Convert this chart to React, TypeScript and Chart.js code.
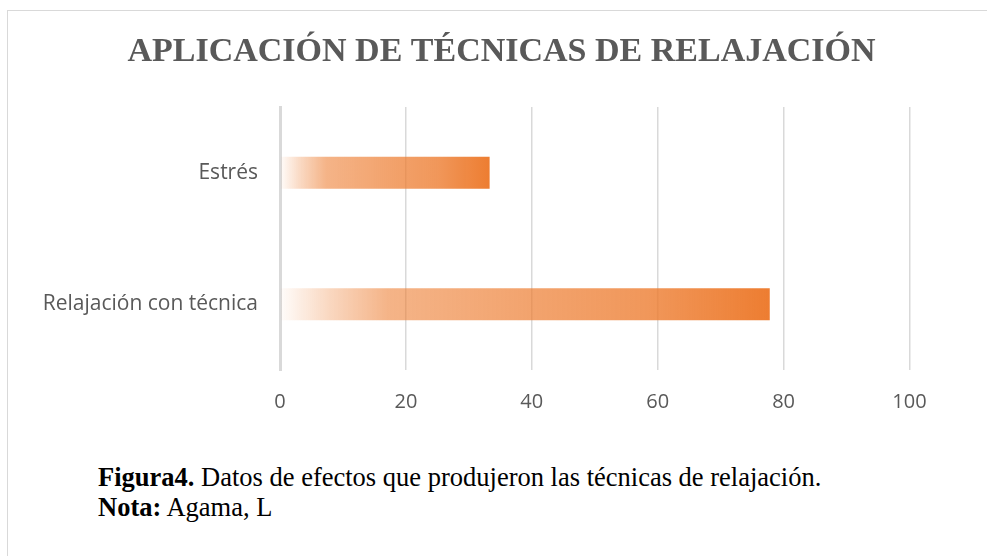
import React, { useEffect, useRef } from "react";
import { Chart, registerables } from "chart.js";

Chart.register(...registerables);

const titleText = "APLICACIÓN DE TÉCNICAS DE RELAJACIÓN";
const categories = ["Estrés", "Relajación con técnica"];
const values = [33.3, 77.8];
const xTicks = [0, 20, 40, 60, 80, 100];

const ORANGE = "237,125,49";

export default function App() {
  const canvasRef = useRef<HTMLCanvasElement | null>(null);

  useEffect(() => {
    const canvas = canvasRef.current;
    if (!canvas) return;
    const chart = new Chart(canvas, {
      type: "bar",
      data: {
        labels: categories,
        datasets: [
          {
            data: values,
            borderWidth: 0,
            barPercentage: 0.243,
            categoryPercentage: 1,
            yAxisID: "y",
            backgroundColor: (ctx: any) => {
              const c = ctx.chart;
              if (!c.chartArea || ctx.type !== "data") return `rgba(${ORANGE},0.75)`;
              const xs = c.scales.x;
              const x0 = xs.getPixelForValue(0);
              const x1 = xs.getPixelForValue(ctx.raw);
              const g = c.ctx.createLinearGradient(x0, 0, x1, 0);
              g.addColorStop(0, `rgba(${ORANGE},0.02)`);
              g.addColorStop(0.1, `rgba(${ORANGE},0.3)`);
              g.addColorStop(0.22, `rgba(${ORANGE},0.58)`);
              g.addColorStop(0.5, `rgba(${ORANGE},0.7)`);
              g.addColorStop(0.75, `rgba(${ORANGE},0.8)`);
              g.addColorStop(1, `rgba(${ORANGE},1)`);
              return g;
            },
          },
        ],
      },
      options: {
        indexAxis: "y",
        animation: false,
        responsive: false,
        maintainAspectRatio: false,
        layout: { padding: { left: 16, right: 0, top: 0, bottom: 27 } },
        plugins: {
          legend: { display: false },
          tooltip: { enabled: false },
          title: {
            display: true,
            text: titleText,
            color: "#595959",
            font: { family: "'Liberation Serif', 'Times New Roman', serif", size: 34, weight: "bold", lineHeight: 1.2 },
            padding: { top: 31.5, bottom: 34.7 },
          },
        },
        scales: {
          x: {
            type: "linear",
            min: 0,
            max: 100,
            afterBuildTicks: (scale: any) => {
              scale.ticks = xTicks.map((v) => ({ value: v }));
            },
            afterFit: (scale: any) => {
              scale.height = 43;
            },
            grid: { color: "#D9D9D9", lineWidth: 1.5, drawTicks: false },
            border: { display: false },
            ticks: {
              color: "#595959",
              padding: 20,
              font: { family: "'Open Sans', sans-serif", size: 20 },
            },
          },
          y: {
            type: "category",
            position: "left",
            afterFit: (scale: any) => {
              scale.width = 264;
            },
            grid: { display: false, drawTicks: false },
            border: { display: true, color: "#D9D9D9", width: 3 },
            ticks: {
              color: "#595959",
              padding: 22,
              font: { family: "'Open Sans', sans-serif", size: 21 },
            },
          },
          yRight: {
            type: "category",
            axis: "y",
            position: "right",
            labels: categories,
            afterFit: (scale: any) => {
              scale.width = 77.5;
            },
            grid: { display: false, drawTicks: false },
            border: { display: false },
            ticks: { display: false },
          },
        },
      },
    });
    return () => chart.destroy();
  }, []);

  return (
    <div style={{ position: "absolute", left: 0, top: 0, width: 987, height: 556, background: "#fff", overflow: "hidden" }}>
      <div
        style={{
          position: "absolute",
          left: 7,
          top: 10,
          width: 990,
          height: 560,
          borderTop: "1px solid #D9D9D9",
          borderLeft: "1px solid #D9D9D9",
          boxSizing: "border-box",
        }}
      />
      <canvas ref={canvasRef} width={987} height={440} style={{ position: "absolute", left: 0, top: 0, width: 987, height: 440 }} />
      <div
        style={{
          position: "absolute",
          left: 98,
          top: 462,
          fontFamily: "'Liberation Serif', 'Times New Roman', serif",
          fontSize: 26.5,
          lineHeight: "30px",
          color: "#000",
          whiteSpace: "nowrap",
        }}
      >
        <div>
          <b>Figura4.</b> Datos de efectos que produjeron las técnicas de relajación.
        </div>
        <div>
          <b>Nota:</b> Agama, L
        </div>
      </div>
    </div>
  );
}
